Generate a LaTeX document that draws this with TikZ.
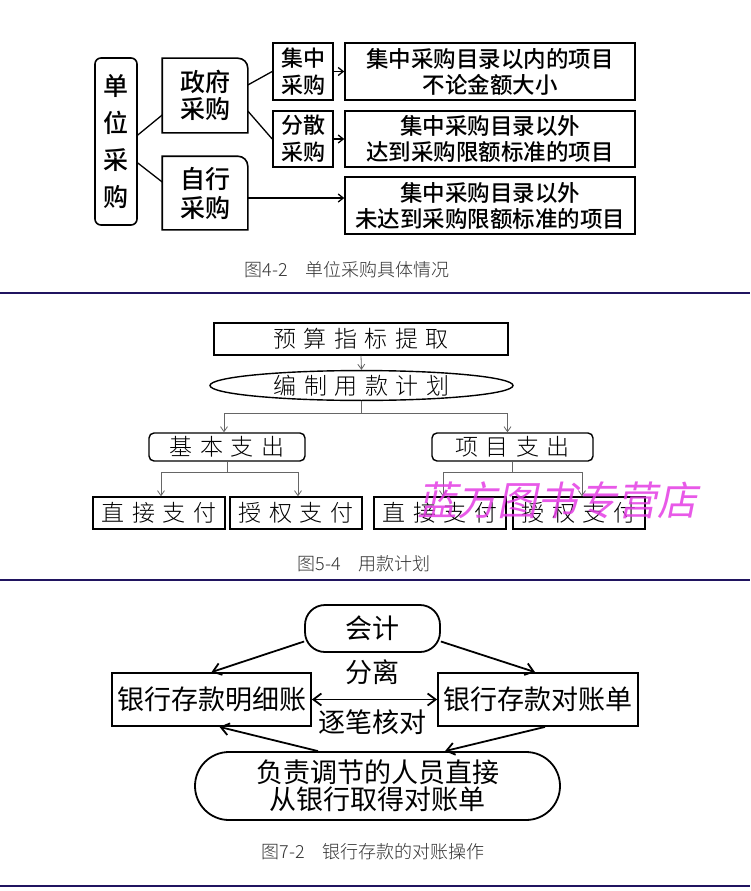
\documentclass[tikz,border=0pt]{standalone}
\usepackage{fontspec}
\newfontfamily\hei{Noto Sans CJK SC}
\newfontfamily\heil{Noto Sans CJK SC Light}
\newfontfamily\heim{Noto Sans CJK SC Medium}
\usetikzlibrary{arrows.meta,shapes.geometric}
\definecolor{sepnavy}{RGB}{32,20,96}
\definecolor{capgray}{RGB}{50,50,50}
\definecolor{wmark}{RGB}{228,60,228}
\begin{document}
\begin{tikzpicture}[x=1pt, y=-1pt,
    bbox/.style={inner sep=0pt, align=center, line width=1.6pt, font=\heim\fontsize{22.5}{26}\selectfont},
    barr/.style={line width=1.3pt, -{Straight Barb[length=5pt,width=8pt]}},
    wbox/.style={draw, line width=1.4pt, inner sep=0pt, font=\heil\fontsize{23}{24}\selectfont\addfontfeature{LetterSpace=33}},
    gline/.style={draw=black!60, line width=0.8pt},
    garr/.style={gline, -{Straight Barb[length=5pt,width=7pt]}},
    tbox/.style={draw, line width=1.8pt, inner sep=0pt, align=center, font=\hei\fontsize{27}{27}\selectfont},
    tarr/.style={line width=1.8pt, -{Straight Barb[length=8pt,width=12pt]}},
    captext/.style={text=capgray, font=\heil\fontsize{18}{20}\selectfont},
    sepline/.style={draw=sepnavy, line width=1.5pt},
    wmk/.style={text=wmark, opacity=0.85, font=\hei\fontsize{40}{40}\selectfont\addfontfeature{FakeSlant=0.2}}]
\useasboundingbox[fill=white] (0,0) rectangle (750,891);

\node[bbox, draw, rounded corners=6pt, minimum width=42pt, minimum height=167pt, font=\heim\fontsize{25}{37}\selectfont] (dw) at (116,141.5) {单\\位\\采\\购};
\node[bbox, minimum width=84pt, minimum height=73pt, font=\heim\fontsize{25}{27}\selectfont] (zf) at (205,95.5) {政府\\采购};
\node[bbox, minimum width=84pt, minimum height=72pt, font=\heim\fontsize{25}{29}\selectfont] (zx) at (205,193) {自行\\采购};
\draw[line width=1.6pt] (zf.south west) -- (zf.north west) -- ([xshift=-10pt]zf.north east) to[out=0,in=90] ([yshift=-10pt]zf.north east) -- (zf.south east) -- cycle;
\draw[line width=1.6pt] (zx.south west) -- (zx.north west) -- ([xshift=-10pt]zx.north east) to[out=0,in=90] ([yshift=-10pt]zx.north east) -- (zx.south east) -- cycle;
\node[bbox, draw, minimum width=60pt, minimum height=57pt, font=\heim\fontsize{22}{27}\selectfont] (jz) at (303,71.5) {集中\\采购};
\node[bbox, draw, minimum width=60pt, minimum height=56pt, font=\heim\fontsize{22}{27}\selectfont] (fs) at (303,139) {分散\\采购};
\node[bbox, draw, minimum width=290pt, minimum height=57pt] (r1) at (490,71.5) {集中采购目录以内的项目\\不论金额大小};
\node[bbox, draw, minimum width=290pt, minimum height=56pt] (r2) at (490,139) {集中采购目录以外\\达到采购限额标准的项目};
\node[bbox, draw, minimum width=290pt, minimum height=57pt] (r3) at (490,205.5) {集中采购目录以外\\未达到采购限额标准的项目};
\draw[line width=1.3pt] ([yshift=6.5pt]dw.east) -- ([yshift=-19.5pt]zf.west);
\draw[line width=1.3pt] ([yshift=-21.5pt]dw.east) -- ([yshift=11pt]zx.west);
\draw[line width=1.3pt] ([yshift=10.5pt]zf.east) -- (jz.west);
\draw[line width=1.3pt] ([yshift=-15.5pt]zf.east) -- (fs.west);
\draw[barr] (jz.east) -- (r1.west);
\draw[barr] (fs.east) -- (r2.west);
\draw[barr] ([yshift=-5pt]zx.east) -- ([yshift=-5pt]zx.east -| r3.west);
\node[captext] (c1) at (347,270) {图4-2\quad 单位采购具体情况};
\draw[sepline] (0,293) -- (750,293);

\node[wbox, minimum width=294pt, minimum height=32pt] (ys) at (361,339) {预算指标提取};
\node[wbox, ellipse, minimum width=303pt, minimum height=29pt] (bz) at (361.5,385.5) {编制用款计划};
\node[wbox, rounded corners=5pt, minimum width=156pt, minimum height=28pt] (jb) at (227,447) {基本支出};
\node[wbox, rounded corners=5pt, minimum width=161pt, minimum height=28pt] (xm) at (512.5,447) {项目支出};
\node[wbox, minimum width=132pt, minimum height=32pt] (b1) at (159,513) {直接支付};
\node[wbox, minimum width=132pt, minimum height=32pt] (b2) at (296,513) {授权支付};
\node[wbox, minimum width=132pt, minimum height=32pt] (b3) at (440,513) {直接支付};
\node[wbox, minimum width=132pt, minimum height=32pt] (b4) at (579,513) {授权支付};
\coordinate (s1) at (361.5,413);
\coordinate (s2) at (227,472);
\coordinate (s3) at (512.5,472);
\draw[garr] (ys.south) -- (bz.north);
\draw[gline] (bz.south) -- (s1);
\draw[garr] (s1) -| ([xshift=-3pt]jb.north);
\draw[garr] (s1) -| ([xshift=-5pt]xm.north);
\draw[gline] (jb.south) -- (s2);
\draw[garr] (s2) -| ([xshift=2pt]b1.north);
\draw[garr] (s2) -| ([xshift=2pt]b2.north);
\draw[gline] (xm.south) -- (s3);
\draw[garr] (s3) -| ([xshift=3pt]b3.north);
\draw[garr] (s3) -| ([xshift=3pt]b4.north);
\node[wmk] (wm) at (557,500) {蓝方图书专营店};
\node[captext] (c2) at (364,564) {图5-4\quad 用款计划};
\draw[sepline] (0,580) -- (750,580);

\node[tbox, rounded corners=20pt, minimum width=135pt, minimum height=47pt] (kj) at (372.5,628.5) {会计};
\node[tbox, minimum width=199pt, minimum height=53pt] (mx) at (211.5,699.5) {银行存款明细账};
\node[tbox, minimum width=200pt, minimum height=53pt] (dz) at (538,699.5) {银行存款对账单};
\node[tbox, rounded corners=34pt, minimum width=365pt, minimum height=68pt] (fz) at (377.5,786) {负责调节的人员直接\\从银行取得对账单};
\node[tbox, draw=none] (fl) at (372,672) {分离};
\node[tbox, draw=none] (zb) at (372,722) {逐笔核对};
\draw[tarr] ([yshift=-13pt]kj.west) -- (mx.north);
\draw[tarr] ([yshift=-13pt]kj.east) -- ([xshift=-3pt]dz.north);
\draw[tarr, {Straight Barb[length=8pt,width=12pt]}-{Straight Barb[length=8pt,width=12pt]}] (mx.east) -- (dz.west);
\draw[tarr] ([xshift=-59.5pt]fz.north) -- ([xshift=8pt]mx.south);
\draw[tarr] ([xshift=7pt]dz.south) -- ([xshift=67.5pt]fz.north);
\node[captext] (c3) at (373,852) {图7-2\quad 银行存款的对账操作};
\draw[sepline] (0,886) -- (750,886);
\end{tikzpicture}
\end{document}
